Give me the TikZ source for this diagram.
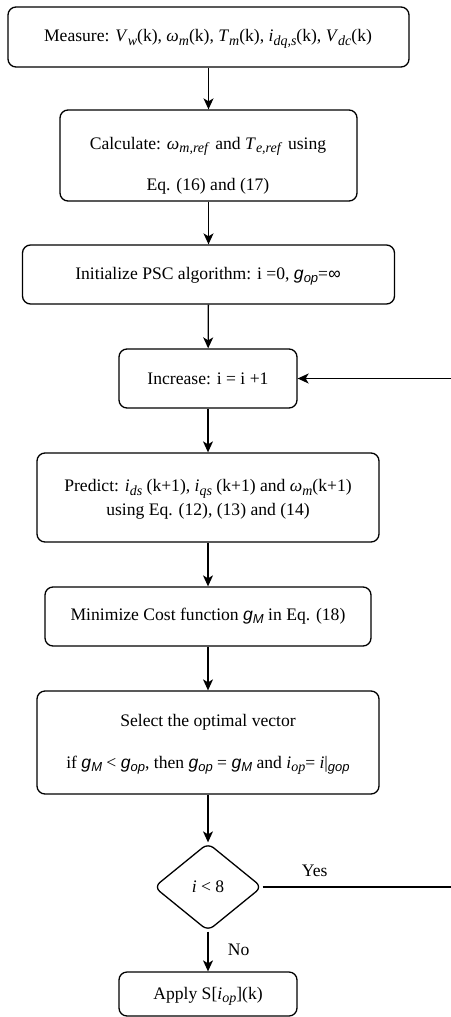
\documentclass[tikz,border=0pt]{standalone}
\usepackage{fontspec}
\setmainfont{Liberation Serif}
\newfontfamily\gsf{Liberation Sans}
\usetikzlibrary{shapes.geometric,arrows.meta}
\newcommand{\mi}[1]{\textit{#1}}
\newcommand{\sbs}[1]{\raisebox{-3.5pt}{\fontsize{14}{14}\selectfont\itshape #1}}
\newcommand{\gsi}[1]{{\gsf\itshape #1}}
\newcommand{\gsub}[1]{\raisebox{-3.5pt}{\fontsize{13}{13}\selectfont\gsf\itshape #1}}
\begin{document}
\begin{tikzpicture}[x=1pt,y=-1pt,
  box/.style={draw, rounded corners=8pt, line width=1.3pt, inner sep=0pt},
  arr/.style={-{Stealth[length=11pt,width=10pt,inset=3pt]}, line width=1.3pt},
  txt/.style={font=\fontsize{17.6}{20}\selectfont, inner sep=0pt, anchor=base}]
\useasboundingbox (0,0) rectangle (450,1017);
\node[box, minimum width=401pt, minimum height=60pt] (b1) at (208.5,37) {};
\node[box, minimum width=297pt, minimum height=91pt] (b2) at (208.5,155.5) {};
\node[box, minimum width=372pt, minimum height=59pt] (b3) at (208.5,274.5) {};
\node[box, minimum width=178pt, minimum height=59pt] (b4) at (208,378.5) {};
\node[box, minimum width=342pt, minimum height=89pt] (b5) at (208,497.5) {};
\node[box, minimum width=326pt, minimum height=59pt] (b6) at (208,616.5) {};
\node[box, minimum width=342pt, minimum height=103pt] (b7) at (208,742.5) {};
\node[draw, diamond, rounded corners=7pt, line width=1.3pt, inner sep=0pt, minimum width=108pt, minimum height=88pt] (d) at (208,887) {};
\node[box, minimum width=178pt, minimum height=44pt] (b8) at (208,994) {};

\node[txt] (t1) at (208,41.5) {Measure: \mi{V}\sbs{w}(k), \mi{ω}\sbs{m}(k), \mi{T}\sbs{m}(k), \mi{i}\sbs{dq,s}(k), \mi{V}\sbs{dc}(k)};
\node[txt] (t2a) at (208,149.3) {Calculate: \mi{ω}\sbs{m,ref}\, and \mi{T}\sbs{e,ref}\, using};
\node[txt] (t2b) at (208,190.5) {Eq. (16) and (17)};
\node[txt] (t3) at (208,279.3) {Initialize PSC algorithm: i =0, \gsi{g}\gsub{op}=\gsi{∞}};
\node[txt] (t4) at (208,384) {Increase: i = i +1};
\node[txt] (t5a) at (208,491.7) {Predict: \mi{i}\sbs{ds} (k+1), \mi{i}\sbs{qs} (k+1) and \mi{ω}\sbs{m}(k+1)};
\node[txt] (t5b) at (208,515) {using Eq. (12), (13) and (14)};
\node[txt] (t6) at (208,620) {Minimize Cost function \gsi{g}\gsub{M} in Eq. (18)};
\node[txt] (t7a) at (208,726) {Select the optimal vector};
\node[txt] (t7b) at (208,768.3) {if \gsi{g}\gsub{M} < \gsi{g}\gsub{op}, then \gsi{g}\gsub{op} = \gsi{g}\gsub{M} and \mi{i}\sbs{op}= \mi{i}|\gsub{gop}};
\node[txt] (td) at (208,892.7) {\mi{i} < 8};
\node[txt, anchor=base west] (yes) at (301.7,876.7) {Yes};
\node[txt, anchor=base west] (no) at (227.7,955) {No};
\node[txt] (t8) at (208,999.3) {Apply S[\mi{i}\sbs{op}](k)};

\draw[arr] (b1) -- (b2);
\draw[arr] (b2) -- (b3);
\draw[arr] (b3) -- (b4);
\draw[arr] (b4) -- (b5);
\draw[arr] (b5) -- (b6);
\draw[arr] (b6) -- (b7);
\draw[arr] (b7) -- (d);
\draw[arr] (d) -- (b8);
\coordinate (c1) at (452,887);
\coordinate (c2) at (452,378.5);
\draw[arr] (d.east) -- (c1) -- (c2) -- (b4.east);
\end{tikzpicture}
\end{document}
